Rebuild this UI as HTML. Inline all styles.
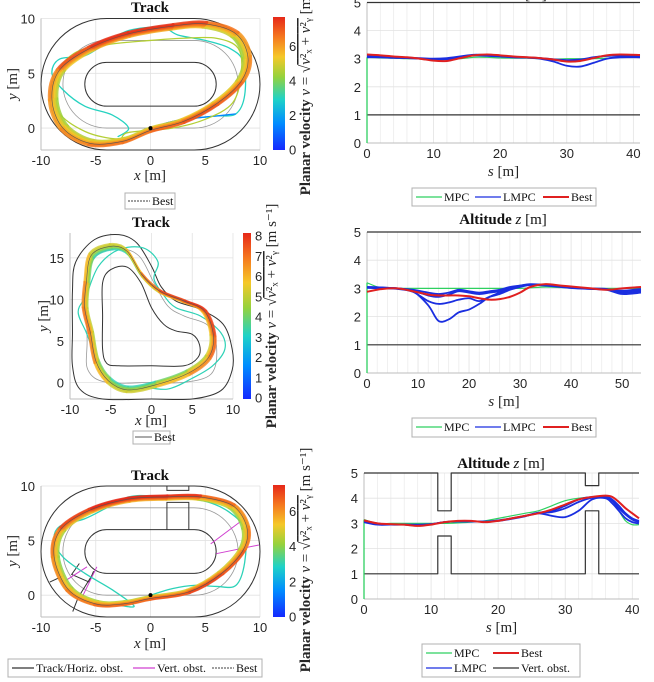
<!DOCTYPE html>
<html><head><meta charset="utf-8"><style>
html,body{margin:0;padding:0;background:#fff;width:654px;height:682px;overflow:hidden}
svg{display:block}
.tk{font-family:"Liberation Sans",sans-serif;font-size:13px;fill:#262626}
.lb{font-family:"Liberation Serif",serif;font-size:15px;fill:#262626}
.tt{font-family:"Liberation Serif",serif;font-size:15px;font-weight:bold;fill:#111}
.lg{font-family:"Liberation Serif",serif;font-size:12px;fill:#111}
</style></head><body>
<svg id="fig" width="654" height="682" viewBox="0 0 654 682" xmlns="http://www.w3.org/2000/svg">
<defs>
<linearGradient id="cmap" x1="0" y1="1" x2="0" y2="0">
<stop offset="0" stop-color="#1428ff"/><stop offset="0.2" stop-color="#008cff"/><stop offset="0.38" stop-color="#1ed2c8"/><stop offset="0.55" stop-color="#96d23c"/><stop offset="0.7" stop-color="#f5c828"/><stop offset="0.85" stop-color="#f5781e"/><stop offset="1" stop-color="#e62819"/>
</linearGradient>
</defs>
</svg>
<script>
// ---------- altitude data ----------
const s2 = [0,2,4,6,8,10,12,14,16,18,20,22,24,26,28,30,32,34,36,38,41];
const best2 = [3.15,3.12,3.08,3.05,3.0,2.93,2.92,3.02,3.12,3.15,3.12,3.08,3.05,3.02,2.97,2.9,2.92,3.02,3.12,3.15,3.13];
const mpc2 = [3.05,3.03,3.02,3.0,3.0,2.98,2.98,3.0,3.05,3.05,3.03,3.02,3.02,3.0,2.98,3.0,3.0,3.0,3.02,3.05,3.05];
const lmpc2a = [3.08,3.07,3.05,3.03,3.0,2.97,2.98,3.05,3.12,3.12,3.1,3.07,3.05,3.02,2.98,2.95,2.97,3.05,3.1,3.1,3.08];
const lmpc2b = [3.05,3.05,3.03,3.02,3.0,2.97,3.0,3.07,3.12,3.1,3.08,3.05,3.04,3.0,2.9,2.75,2.72,2.85,3.0,3.05,3.05];
const lmpc2c = [3.1,3.08,3.06,3.04,3.02,3.0,3.02,3.08,3.14,3.13,3.1,3.06,3.04,3.02,2.96,2.92,2.95,3.04,3.1,3.12,3.1];

const s4 = [0,3,6,9,12,14,16,18,20,22,24,26,28,30,32,35,38,41,44,47,50,53.7];
const best4 = [2.88,2.98,3.0,2.9,2.78,2.75,2.75,2.75,2.72,2.65,2.6,2.62,2.7,2.85,3.05,3.15,3.1,3.05,3.0,2.95,3.0,3.05];
const mpc4 = [3.2,3.0,3.0,3.0,3.0,3.0,3.0,3.0,3.0,3.0,3.0,3.0,3.0,3.0,3.02,3.05,3.03,3.0,3.0,3.0,3.0,3.0];
const lmpc4a = [3.05,3.03,3.0,2.95,2.85,2.8,2.85,2.95,2.9,2.85,2.9,2.95,3.05,3.1,3.15,3.12,3.08,3.02,3.0,2.98,2.85,2.9];
const lmpc4b = [3.05,3.03,3.0,2.9,2.4,1.85,1.9,2.15,2.25,2.45,2.7,2.85,3.0,3.1,3.12,3.1,3.05,3.0,2.98,2.95,2.8,2.85];
const lmpc4c = [3.02,3.0,2.98,2.88,2.55,2.45,2.5,2.6,2.65,2.55,2.7,2.8,2.95,3.05,3.12,3.12,3.07,3.02,2.98,2.96,2.9,2.95];
const lmpc4d = [3.04,3.02,3.0,2.92,2.75,2.7,2.78,2.9,2.85,2.8,2.85,2.9,3.0,3.08,3.14,3.12,3.06,3.02,2.99,2.97,2.92,2.98];

const s6 = [0,2,4,6,8,10,12,14,16,18,20,22,24,26,28,30,32,34,36,37,38,39,40,41];
const best6 = [3.12,3.0,2.97,2.95,2.9,2.95,3.05,3.1,3.1,3.05,3.1,3.2,3.3,3.4,3.55,3.75,3.95,4.05,4.1,4.05,3.85,3.6,3.4,3.2];
const mpc6 = [3.15,3.0,3.0,3.0,3.0,3.0,3.0,3.02,3.05,3.1,3.2,3.3,3.4,3.5,3.7,3.9,4.0,4.05,4.05,3.9,3.5,3.1,2.95,2.95];
const lmpc6a = [3.1,3.0,2.95,2.95,2.92,2.97,3.05,3.08,3.08,3.07,3.12,3.2,3.3,3.42,3.5,3.7,3.95,4.05,4.05,3.9,3.6,3.35,3.15,3.05];
const lmpc6b = [3.05,2.95,2.95,2.95,2.95,2.97,3.05,3.08,3.08,3.07,3.1,3.18,3.28,3.4,3.3,3.25,3.5,3.95,4.0,3.8,3.5,3.2,3.05,3.0];
const lmpc6c = [3.08,2.98,2.96,2.95,2.93,2.97,3.05,3.08,3.08,3.07,3.11,3.2,3.3,3.42,3.45,3.6,3.85,4.02,4.06,3.95,3.7,3.4,3.2,3.1];
const obsS = [0,11,11,13,13,33,33,35,35,41];
const obsTopZ = [5,5,3.5,3.5,5,5,4.5,4.5,5,5];
const obsBotZ = [1,1,2.5,2.5,1,1,3.5,3.5,1,1];

// ---------- track trajectories (x,y in m) ----------
const lap1 = [[0,-0.2],[3,0.6],[6,2.2],[8.3,4.3],[8.9,6.5],[7.8,8.6],[5,9.5],[2,9.3],[-2,8.6],[-5.5,7.3],[-8.3,5.3],[-9,2.6],[-8,0],[-5.5,-1.4],[-2.5,-1.2]];
const spd1 = [6,6.5,6.5,6,5.5,5.5,6.5,7,7,7,6,5.5,5.5,6,6];
const first1 = [[0,0],[2,0.6],[4,0.9],[6,1.1],[7.8,1.3],[8.6,3],[8.5,6],[7.2,7.3],[5,8],[2.5,8.5],[1,9.2],[-2,8.9],[-4,7.8],[-6,6.6],[-8.3,6.3],[-9,5],[-8,3.5],[-6,2],[-3.5,1.2],[-2,0],[-3,-0.8]];
const mid1 = [[-2,-0.4],[2,0],[5,0.8],[7.5,2.3],[8.3,5],[8,7.3],[6,8.2],[3,8.2],[0,8],[-4,7.6],[-7,6.8],[-8.8,4.5],[-8.5,1.6],[-6,-0.3],[-3,-1]];

const lap3 = [[-8,12],[-7.4,15.3],[-5,16.4],[-3,15.8],[-1.2,13],[1,11],[4,9.8],[6.5,8.6],[7.6,5.6],[7,3],[4.5,1.1],[0.5,-0.3],[-3,-0.9],[-5.3,0.2],[-6.8,2.5],[-7.5,6],[-8.2,9]];
const spd3 = [6,5,4.5,5,6,7,7.5,7.5,7,6.5,6,5,4.5,5,6,6.5,6.5];
const first3 = [[0,0],[-2,-0.8],[-4.5,-0.3],[-6,1],[-7,3.5],[-8,6],[-9,8.5],[-8,10.5],[-6.5,14],[-4,16],[-1,16.2],[0.8,14.5],[0.3,12.5],[1.5,10.5],[3,9],[6,8],[8.5,6],[9,4],[7.5,2],[5,0.5],[2,-0.8],[-1,-0.5]];

const lap5 = [[0,-0.3],[3.5,0.3],[6.5,2],[8.5,4.2],[8.8,6.2],[7.5,8.2],[4.5,9],[1.5,9],[-2,8.8],[-5.5,7.8],[-8.2,6],[-8.8,3.5],[-7.5,0.5],[-5,-0.8],[-2.5,-0.8]];
const spd5 = [6,6.5,6.5,6,5.5,5.5,6.5,7,7,7,6,5.5,5.5,6,6];
const first5 = [[0,0],[2,0.6],[4,0.9],[6,0.8],[7.8,0.9],[8.6,3],[8.6,6],[7.2,7.6],[5,8.6],[2.5,8.9],[0,9.1],[-2,9],[-4,8],[-6,7],[-8.3,6.3],[-8.8,5],[-8,3.5],[-6,2],[-3.5,0.5],[-1.5,-1],[-3,-0.9]];

const NS='http://www.w3.org/2000/svg';
const svg=document.getElementById('fig');
function mk(tag,attrs,parent){const e=document.createElementNS(NS,tag);for(const k in attrs)e.setAttribute(k,attrs[k]);(parent||svg).appendChild(e);return e;}
function txt(s,attrs,parent){const e=mk('text',attrs,parent);e.textContent=s;return e;}
function scaler(box,xr,yr){return{X:v=>box.x0+(v-xr[0])/(xr[1]-xr[0])*(box.x1-box.x0),Y:v=>box.y1-(v-yr[0])/(yr[1]-yr[0])*(box.y1-box.y0)};}
const stops=[[0,[20,40,255]],[0.2,[0,140,255]],[0.38,[30,210,200]],[0.55,[150,210,60]],[0.7,[245,200,40]],[0.85,[245,120,30]],[1,[230,40,25]]];
function cmap(t){t=Math.max(0,Math.min(1,t));for(let i=1;i<stops.length;i++){if(t<=stops[i][0]){const a=stops[i-1],b=stops[i];const f=(t-a[0])/(b[0]-a[0]);const c=a[1].map((v,j)=>Math.round(v+(b[1][j]-v)*f));return 'rgb('+c.join(',')+')';}}return 'rgb(230,40,25)';}

function axes(name,box,xr,yr,xt,yt,xminor){
  const g=mk('g',{});
  
  
  const S=scaler(box,xr,yr);
  mk('rect',{x:box.x0,y:box.y0,width:box.x1-box.x0,height:box.y1-box.y0,fill:'#fff'},g);
  (xminor||[]).forEach(v=>mk('line',{x1:S.X(v),x2:S.X(v),y1:box.y0,y2:box.y1,stroke:'#ececec','stroke-width':0.8},g));
  xt.forEach(v=>mk('line',{x1:S.X(v),x2:S.X(v),y1:box.y0,y2:box.y1,stroke:'#e2e2e2','stroke-width':0.8},g));
  yt.forEach(v=>mk('line',{x1:box.x0,x2:box.x1,y1:S.Y(v),y2:S.Y(v),stroke:'#e2e2e2','stroke-width':0.8},g));
  mk('line',{x1:box.x0,x2:box.x0,y1:box.y0,y2:box.y1,stroke:'#bdbdbd'},g);
  mk('line',{x1:box.x0,x2:box.x1,y1:box.y1,y2:box.y1,stroke:'#bdbdbd'},g);
  xt.forEach(v=>{const t=txt(String(v),{x:S.X(v),y:box.y1+15,'text-anchor':'middle',class:'tk'},g);
    
    });
  yt.forEach(v=>{const t=txt(String(v),{x:box.x0-6,y:S.Y(v)+5,'text-anchor':'end',class:'tk'},g);
    
    });
  return S;
}
function smoothPath(pts,closed){
  const n=pts.length;const segs=closed?n:n-1;const out=[];
  for(let i=0;i<segs;i++){
    const p0=pts[(i-1+n)%n],p1=pts[i],p2=pts[(i+1)%n],p3=pts[(i+2)%n];
    const q0=(!closed&&i===0)?p1:p0,q3=(!closed&&i+2>=n)?p2:p3;
    const c1=[p1[0]+(p2[0]-q0[0])/6,p1[1]+(p2[1]-q0[1])/6],c2=[p2[0]-(q3[0]-p1[0])/6,p2[1]-(q3[1]-p1[1])/6];
    out.push({p1,c1,c2,p2});
  }
  return out;
}
function pathD(pts,closed){const segs=smoothPath(pts,closed);let d='M'+segs[0].p1.join(',');segs.forEach(s=>{d+=' C'+s.c1.join(',')+' '+s.c2.join(',')+' '+s.p2.join(',');});if(closed)d+='Z';return d;}
function toPx(S,pts){return pts.map(p=>[+S.X(p[0]).toFixed(2),+S.Y(p[1]).toFixed(2)]);}
function scaleAbout(pts,c,k){return pts.map(p=>[c[0]+(p[0]-c[0])*k,c[1]+(p[1]-c[1])*k]);}

function speedLap(S,g,pts,spd,vmax,w,off,opacity){
  const segs=smoothPath(toPx(S,pts),true);
  segs.forEach((s,i)=>{const v=(spd[i]+spd[(i+1)%spd.length])/2+off;
    const p=mk('path',{d:'M'+s.p1.join(',')+' C'+s.c1.join(',')+' '+s.c2.join(',')+' '+s.p2.join(','),fill:'none',stroke:cmap(v/vmax),'stroke-width':w,'stroke-linecap':'round','stroke-opacity':opacity},g);
    
    });
}
function simpleLine(S,g,pts,color,w,closed,name){
  const p=mk('path',{d:pathD(toPx(S,pts),closed),fill:'none',stroke:color,'stroke-width':w},g);
  
  
  return p;
}
function stadium(S,cx,cy,L,r){
  const rx=S.X(r)-S.X(0),ry=S.Y(0)-S.Y(r);
  return `M${S.X(cx-L)},${S.Y(cy-r)} L${S.X(cx+L)},${S.Y(cy-r)} A${rx},${ry} 0 0 0 ${S.X(cx+L)},${S.Y(cy+r)} L${S.X(cx-L)},${S.Y(cy+r)} A${rx},${ry} 0 0 0 ${S.X(cx-L)},${S.Y(cy-r)}Z`;
}
function colorbar(name,x,y0,y1,w,vmax,ticks,lblX,lblY,fs,tfs){
  const g=mk('g',{});
  
  
  mk('rect',{x:x,y:y0,width:w,height:y1-y0,fill:'url(#cmap)'},g);
  ticks.forEach(v=>{const yy=y1-v/vmax*(y1-y0);txt(String(v),{x:x+w+4,y:yy+tfs*0.35,class:'tk','font-size':tfs},g);});
  const t=mk('text',{transform:`translate(${lblX},${lblY}) rotate(-90)`,'text-anchor':'middle',class:'lb','font-size':fs},g);
  t.innerHTML='<tspan font-weight="bold">Planar velocity </tspan><tspan font-style="italic">v</tspan> = √<tspan text-decoration="overline"><tspan font-style="italic">v</tspan>²ₓ + <tspan font-style="italic">v</tspan>²ᵧ</tspan> [m s⁻¹]';
  
  
}
function title(s,x,y,name,html){const t=txt(s,{x:x,y:y,'text-anchor':'middle',class:'tt'});if(html)t.innerHTML=html;
  
  }
function axLabel(html,x,y,name,rot){const t=mk('text',{x:x,y:y,'text-anchor':'middle',class:'lb'});if(rot)t.setAttribute('transform',`rotate(-90 ${x} ${y})`);t.innerHTML=html;
  
  }
function legend(name,x,y,w,h,entries){
  const g=mk('g',{});
  
  
  mk('rect',{x:x,y:y,width:w,height:h,fill:'#fff',stroke:'#b0b0b0'},g);
  entries.forEach(e=>{const l=mk('line',{x1:e.x,x2:e.x+e.len,y1:e.y,y2:e.y,stroke:e.c,'stroke-width':e.w||1.2,'stroke-dasharray':e.dash||'none'},g);
    
    
    const t=txt(e.t,{x:e.x+e.len+2,y:e.y+4,class:'lg'},g);
    
    });
}

// ===== Panel 1: oval track =====
(function(){
  const S=axes('track1',{x0:41,x1:260,y0:18.5,y1:150},[-10,10],[-2,10],[-10,-5,0,5,10],[0,5,10]);
  const g=mk('g',{});
  let p=mk('path',{d:stadium(S,0,4,4,6),fill:'none',stroke:'#333','stroke-width':1},g);
  p=mk('path',{d:stadium(S,0,4,4,2),fill:'none',stroke:'#333','stroke-width':1},g);
  p=mk('path',{d:stadium(S,0,4,4,4),fill:'none',stroke:'#999','stroke-width':0.8},g);
  simpleLine(S,g,first1,cmap(3/7.7),1.3,false,'first-lap');
  const st=mk('path',{d:pathD(toPx(S,first1.slice(0,5)),false),fill:'none',stroke:cmap(1.5/7.7),'stroke-width':1.3},g);
  simpleLine(S,g,mid1,cmap(4.6/7.7),1.3,true,'second-lap');
  const c=[0,4];
  [[0.95,-1.2],[0.965,-0.8],[0.98,-0.4],[0.995,0],[1.01,0.3],[1.025,0.6]].forEach(k=>speedLap(S,g,scaleAbout(lap1,c,k[0]),spd1,7.7,3.2,k[1],0.85));
  simpleLine(S,g,lap1,'#555',0.6,true,'best-lap');
  mk('circle',{cx:S.X(0),cy:S.Y(0),r:2,fill:'#000'},g);
  title('Track',150,12,'track1-title');
  axLabel('<tspan font-style="italic">x</tspan> [m]',150,180,'track1-x-label');
  axLabel('<tspan font-style="italic">y</tspan> [m]',17,84,'track1-y-label',true);
  colorbar('colorbar1',273,17,150,12,7.7,[0,2,4,6],310,83,14,13);
  legend('track1-legend',125,193,50,16,[{x:128,y:201,len:22,c:'#666',dash:'2,1',t:'Best'}]);
})();

// ===== Panel 3: heart track =====
(function(){
  const S=axes('track2',{x0:70,x1:233,y0:233,y1:399},[-10,10],[-2,18],[-10,-5,0,5,10],[0,5,10,15]);
  const g=mk('g',{});
  const outer=[[-6,-2],[0,-2],[5,-2],[8.5,-1],[9.9,1.5],[9.9,4],[8.8,7],[6,8.8],[3,9.8],[1.2,11.5],[0,14],[-1.8,16.8],[-4,17.8],[-7,17.2],[-9.3,14.5],[-9.7,11],[-9.7,6],[-9.7,2],[-8.8,-0.8]];
  const inner=[[-4,2],[0,2],[4,2],[5.7,3],[5.9,4.5],[5,5.8],[3,6.2],[1.5,7],[0,9],[-1.3,12],[-3,13.9],[-5,13.6],[-6,12],[-6,8],[-6,4],[-5.5,2.3]];
  const centre=[[-5.5,0],[0,0],[4,0],[7.3,1],[8,4],[7,6.8],[4,8],[2,9.2],[0.3,12],[-1.5,15.2],[-4,16.1],[-7,15],[-7.9,11],[-7.9,5],[-7.8,1.5]];
  simpleLine(S,g,outer,'#333',1,true,'outer-boundary');
  simpleLine(S,g,inner,'#333',1,true,'inner-boundary');
  simpleLine(S,g,centre,'#999',0.8,true,'centerline');
  simpleLine(S,g,first3,cmap(3.3/8.2),1.2,false,'first-lap');
  const c=[-0.5,8];
  [[0.955,-1.5],[0.97,-1],[0.985,-0.4],[1.0,0],[1.015,0.3],[1.03,0.5]].forEach(k=>speedLap(S,g,scaleAbout(lap3,c,k[0]),spd3,8.2,2.2,k[1],0.8));
  simpleLine(S,g,lap3,'#555',0.6,true,'best-lap');
  title('Track',151,227,'track2-title');
  axLabel('<tspan font-style="italic">x</tspan> [m]',151,425,'track2-x-label');
  axLabel('<tspan font-style="italic">y</tspan> [m]',48,316,'track2-y-label',true);
  colorbar('colorbar2',243,233,399,8,8.2,[0,1,2,3,4,5,6,7,8],276,316,9,10);
  legend('track2-legend',133,431,37,13,[{x:135,y:437,len:17,c:'#777',t:'Best'}]);
})();

// ===== Panel 5: track with obstacles =====
(function(){
  const S=axes('track3',{x0:41,x1:260,y0:486,y1:617},[-10,10],[-2,10],[-10,-5,0,5,10],[0,5,10]);
  const g=mk('g',{});
  let p=mk('path',{d:stadium(S,0,4,4,6),fill:'none',stroke:'#333','stroke-width':1},g);
  p=mk('path',{d:stadium(S,0,4,4,2),fill:'none',stroke:'#333','stroke-width':1},g);
  p=mk('path',{d:stadium(S,0,4,4,4),fill:'none',stroke:'#999','stroke-width':0.8},g);
  const obs=[[[1.5,10],[1.5,9.6],[3.5,9.6],[3.5,10]],[[1.5,6],[1.5,8.5],[3.5,8.5],[3.5,6]],[[-9.2,1.2],[-7.9,1.8]],[[-6.5,2.9],[-7.2,1.9],[-5.6,1.2],[-5.2,2.2]],[[-7.1,-1.5],[-6.6,-0.2],[-5.1,2.2]]];
  obs.forEach(o=>{const q=mk('polyline',{points:o.map(v=>S.X(v[0])+','+S.Y(v[1])).join(' '),fill:'none',stroke:'#333','stroke-width':1},g);});
  [[[-7.8,1.3],[-5.8,2.6]],[[-6.3,-0.3],[-4.9,2.6]],[[5.5,4.7],[8.7,7.1]],[[6,3.8],[9.9,4.6]]].forEach(o=>{const q=mk('line',{x1:S.X(o[0][0]),y1:S.Y(o[0][1]),x2:S.X(o[1][0]),y2:S.Y(o[1][1]),stroke:'#d040d0','stroke-width':1},g);});
  simpleLine(S,g,first5,cmap(3/7.5),1.3,false,'first-lap');
  const c=[0,4];
  [[0.955,-1.5],[0.97,-0.8],[0.985,-0.3],[1.0,0],[1.01,0.3],[1.02,0.6]].forEach(k=>speedLap(S,g,scaleAbout(lap5,c,k[0]),spd5,7.5,2.8,k[1],0.85));
  simpleLine(S,g,lap5,'#555',0.6,true,'best-lap');
  mk('circle',{cx:S.X(0),cy:S.Y(0),r:2,fill:'#000'},g);
  title('Track',150,480,'track3-title');
  axLabel('<tspan font-style="italic">x</tspan> [m]',150,648,'track3-x-label');
  axLabel('<tspan font-style="italic">y</tspan> [m]',17,551,'track3-y-label',true);
  colorbar('colorbar3',273,485,617,12,7.5,[0,2,4,6],310,560,14,13);
  legend('track3-legend',8,659,254,18,[{x:12,y:668,len:22,c:'#333',t:'Track/Horiz. obst.'},{x:133,y:668,len:22,c:'#d040d0',t:'Vert. obst.'},{x:212,y:668,len:22,c:'#666',dash:'2,1',t:'Best'}]);
})();

// ===== altitude panels =====
function altitude(name,box,xmax,xt,minor,s,mpc,lmpcs,best,obs){
  const S=axes(name,box,[0,xmax],[0,5],xt,[0,1,2,3,4,5],minor);
  const g=mk('g',{});
  const poly=(xs,ys,color,w,nm,smooth)=>{const pts=xs.map((v,i)=>[S.X(v),S.Y(ys[i])]);
    const p=mk('path',{d:smooth?pathD(pts,false):'M'+pts.map(q=>q.join(',')).join(' L'),fill:'none',stroke:color,'stroke-width':w,'stroke-linejoin':'round'},g);
    
    };
  if(obs){poly(obs.s,obs.top,'#333',1.2,'vert-obstacle-top');poly(obs.s,obs.bot,'#333',1.2,'vert-obstacle-bottom');}
  else{poly([0,xmax],[5,5],'#333',1.2,'altitude-upper-limit');poly([0,xmax],[1,1],'#333',1.2,'altitude-lower-limit');}
  poly([0,0],[0,mpc[0]],'#2ed060',1.3,'mpc-takeoff');
  poly(s,mpc,'#2ed060',1.2,'mpc-series',true);
  lmpcs.forEach(l=>poly(s,l,'#1a2ee0',1.8,'lmpc-series',true));
  poly(s,best,'#e02020',2,'best-series',true);
  axLabel('<tspan font-style="italic">s</tspan> [m]',(box.x0+box.x1)/2,box.y1+33,name+'-x-label');
  return S;
}
altitude('altitude1',{x0:367,x1:640,y0:2.5,y1:143},41,[0,10,20,30,40],[2,4,6,8,12,14,16,18,22,24,26,28,32,34,36,38],s2,mpc2,[lmpc2a,lmpc2b,lmpc2c],best2);
title('',503,-1,'altitude1-title','Altitude <tspan font-style="italic" font-weight="normal">z</tspan> <tspan font-weight="normal">[m]</tspan>');
legend('altitude1-legend',412,188,184,18,[{x:416,y:197,len:26,c:'#2ed060',t:'MPC'},{x:475,y:197,len:26,c:'#1a2ee0',t:'LMPC'},{x:543,y:197,len:26,c:'#e02020',w:2,t:'Best'}]);

altitude('altitude2',{x0:367,x1:641,y0:232,y1:373},53.7,[0,10,20,30,40,50],[2,4,6,8,12,14,16,18,22,24,26,28,32,34,36,38,42,44,46,48,52],s4,mpc4,[lmpc4a,lmpc4b,lmpc4c,lmpc4d],best4);
title('',503,224,'altitude2-title','Altitude <tspan font-style="italic" font-weight="normal">z</tspan> <tspan font-weight="normal">[m]</tspan>');
legend('altitude2-legend',412,418,184,19,[{x:416,y:427,len:26,c:'#2ed060',t:'MPC'},{x:475,y:427,len:26,c:'#1a2ee0',t:'LMPC'},{x:543,y:427,len:26,c:'#e02020',w:2,t:'Best'}]);

altitude('altitude3',{x0:364,x1:639,y0:473,y1:599},41,[0,10,20,30,40],[2,4,6,8,12,14,16,18,22,24,26,28,32,34,36,38],s6,mpc6,[lmpc6a,lmpc6b,lmpc6c],best6,{s:obsS,top:obsTopZ,bot:obsBotZ});
title('',501,468,'altitude3-title','Altitude <tspan font-style="italic" font-weight="normal">z</tspan> <tspan font-weight="normal">[m]</tspan>');
legend('altitude3-legend',422,644,158,33,[{x:426,y:653,len:26,c:'#2ed060',t:'MPC'},{x:493,y:653,len:26,c:'#e02020',w:2,t:'Best'},{x:426,y:668,len:26,c:'#1a2ee0',t:'LMPC'},{x:493,y:668,len:26,c:'#333',t:'Vert. obst.'}]);
</script>
</body></html>
